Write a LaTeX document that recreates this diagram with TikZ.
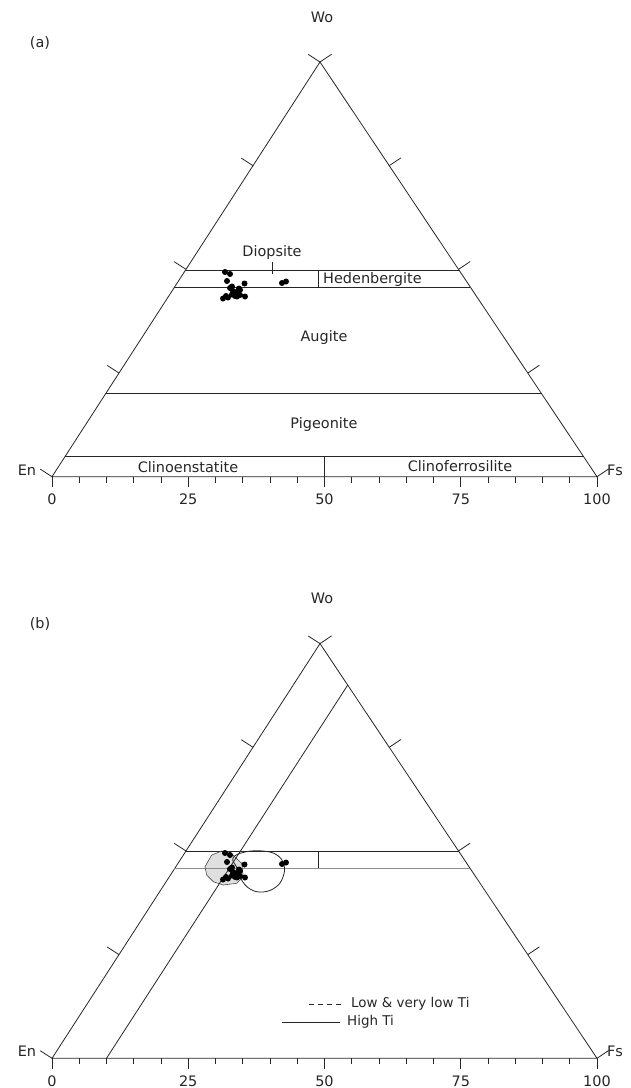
\documentclass[tikz,border=0pt]{standalone}
\usepackage{fontspec}
\setmainfont{DejaVu Sans}
\usetikzlibrary{calc}
\newcommand\drawTernPlate[2]{%
  \begin{scope}[shift={(0,#2)}]
    \coordinate (#1En) at (52,476.7);
    \coordinate (#1Fs) at (597,476.7);
    \coordinate (#1Wo) at (320,62);
    \node[lbl] (#1WoL) at (322,17) {Wo};
    \node[lbl] (#1EnL) at (27,470) {En};
    \node[lbl] (#1FsL) at (615,470) {Fs};
  \end{scope}
  \draw[frame] (#1En) -- (#1Fs) -- (#1Wo) -- cycle;
  \foreach \t in {0,0.25,0.5,0.75} {
    \coordinate (#1pl) at ($(#1En)!\t!(#1Wo)$);
    \draw[tk] (#1pl) -- ($(#1pl)!14bp!90:(#1Wo)$);
    \coordinate (#1pr) at ($(#1Fs)!\t!(#1Wo)$);
    \draw[tk] (#1pr) -- ($(#1pr)!14bp!-90:(#1Wo)$);
  }
  \draw[tk] (#1Wo) -- ($(#1Wo)!14bp!-90:(#1En)$);
  \draw[tk] (#1Wo) -- ($(#1Wo)!14bp!90:(#1Fs)$);
  \foreach \i in {0,...,20} {
    \pgfmathsetmacro\len{mod(\i,5)==0 ? 10.7 : 6}
    \coordinate (#1pb) at ($(#1En)!\i/20!(#1Fs)$);
    \draw[tk] (#1pb) -- ++(0,\len);
  }
  \foreach \v/\f in {0/0,25/0.25,50/0.5,75/0.75,100/1} {
    \path ($(#1En)!\f!(#1Fs)$) ++(0,22.6) node[lbl] (#1ax\v) {\v};
  }
  \coordinate (#1bTL) at ($(#1En)!0.498!(#1Wo)$);
  \coordinate (#1bTR) at ($(#1Fs)!0.498!(#1Wo)$);
  \coordinate (#1bBL) at ($(#1En)!0.457!(#1Wo)$);
  \coordinate (#1bBR) at ($(#1Fs)!0.457!(#1Wo)$);
  \draw[frame] (#1bTL) -- (#1bTR);
  \draw[frame] (318,0 |- #1bTL) -- (318,0 |- #1bBL);
}
\begin{document}
\begin{tikzpicture}[x=1bp,y=-1bp,
  frame/.style={line width=0.8bp, draw=black!85},
  tk/.style={line width=0.8bp, draw=black!85},
  lbl/.style={font=\fontsize{14.5}{16}\selectfont, text=black!85, inner sep=0pt},
  lgd/.style={font=\fontsize{13.5}{15}\selectfont, text=black!85, inner sep=0pt, anchor=west},
  dot/.style={fill=black, draw=none},
]
\useasboundingbox (0,0) rectangle (631,1088);

%================ (a) =================
\drawTernPlate{a}{0}
\node[lbl] (alab) at (40,43) {(a)};
\draw[frame] (abBL) -- (abBR);
\coordinate (aAL) at ($(aEn)!0.2!(aWo)$);
\coordinate (aAR) at ($(aFs)!0.2!(aWo)$);
\draw[frame] (aAL) -- (aAR);
\coordinate (aCL) at ($(aEn)!0.05!(aWo)$);
\coordinate (aCR) at ($(aFs)!0.05!(aWo)$);
\draw[frame] (aCL) -- (aCR);
\draw[frame] (324,0 |- aCL) -- (324,0 |- aEn);
\draw[frame] (272,262) -- (272,273.5);
\node[lbl] (aDi) at (272,253) {Diopsite};
\node[lbl, anchor=west] (aHd) at (323,279.5) {Hedenbergite};
\node[lbl] (aAu) at (324,338) {Augite};
\node[lbl] (aPi) at (324,425) {Pigeonite};
\node[lbl] (aCe) at (188,467) {Clinoenstatite};
\node[lbl] (aCf) at (460,466) {Clinoferrosilite};
\foreach \x/\y in {225/272,230/274,227/281,244.5/283.5,282/283,286/281.5,
  230/288,233/291,236.5/292,240/290,232/294.5,235/296,228/297.5,223/298.5,
  240/295,245/296.5,239/288.5,232/286.5,237/296.5,226/296}
  \fill[dot] (\x,\y) circle (3);

%================ (b) =================
\fill[gray!25] (205,866.7) -- (211.7,855) -- (221.7,851) -- (230,852.3) -- (241.7,863.3) -- (243.3,876.7) -- (236.7,883.3) -- (223.3,885) -- (213.3,881.7) -- (206.7,875) -- cycle;
\drawTernPlate{b}{581.6}
\node[lbl] (blab) at (40,624) {(b)};
\draw[line width=0.8bp, draw=black!45] (bbBL) -- (bbBR);
\draw[line width=0.6bp, draw=black!70] (205,866.7) -- (211.7,855) -- (221.7,851) -- (230,852.3) -- (241.7,863.3) -- (243.3,876.7) -- (236.7,883.3) -- (223.3,885) -- (213.3,881.7) -- (206.7,875) -- cycle;
\coordinate (bT1) at ($(bEn)!0.1!(bFs)$);
\coordinate (bT2) at ($(bFs)!0.9!(bWo)$);
\draw[frame] (bT1) -- (bT2);
\draw[frame] plot[smooth cycle, tension=0.7] coordinates {(233,858) (245,852) (263,851) (277,855) (284,865) (283,877) (276,887) (263,892) (250,889) (241,879) (237,868)};
\foreach \x/\y in {225/272,230/274,227/281,244.5/283.5,282/283,286/281.5,
  230/288,233/291,236.5/292,240/290,232/294.5,235/296,228/297.5,223/298.5,
  240/295,245/296.5,239/288.5,232/286.5,237/296.5,226/296}
  \fill[dot] (\x,\y+581) circle (3);
% legend
\coordinate (lg1a) at (309,1004);
\coordinate (lg1b) at (345,1004);
\draw[frame, dash pattern=on 5bp off 4bp] (lg1a) -- (lg1b);
\node[lgd] (lg1t) at (351,1004) {Low \& very low Ti};
\coordinate (lg2a) at (282,1022);
\coordinate (lg2b) at (340,1022);
\draw[frame] (lg2a) -- (lg2b);
\node[lgd] (lg2t) at (347,1022) {High Ti};
\end{tikzpicture}
\end{document}
